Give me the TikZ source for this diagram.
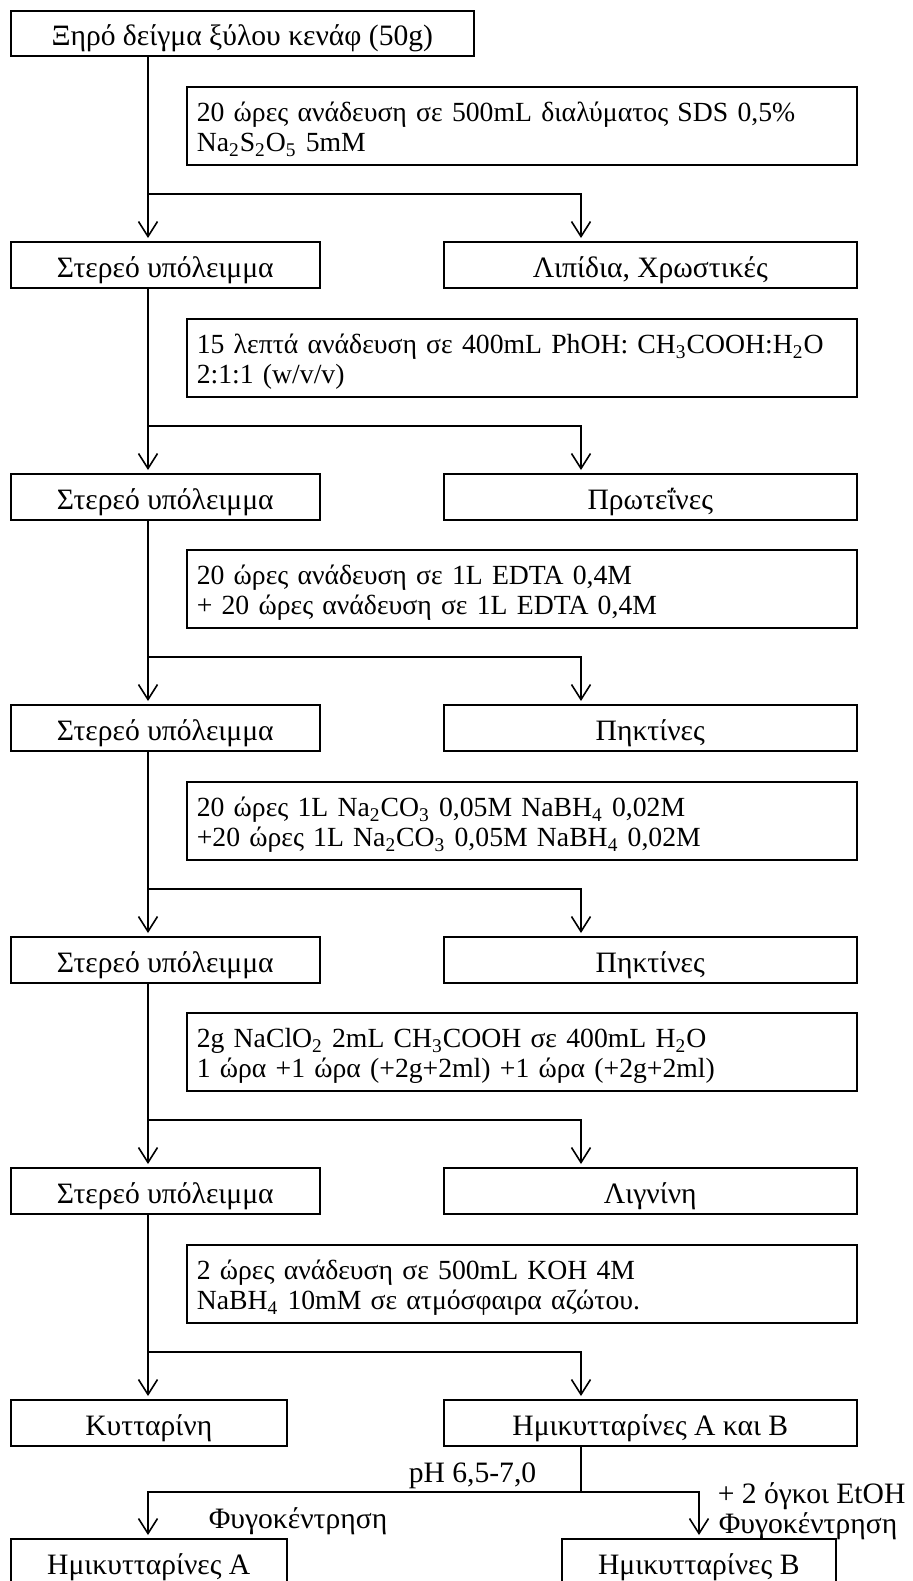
\documentclass[tikz,border=0pt]{standalone}
\usepackage{fontspec}
\setmainfont{Liberation Serif}
\usetikzlibrary{arrows.meta}

\begin{document}
\begin{tikzpicture}[x=0.5pt,y=-0.5pt,>={Straight Barb[length=7.5pt,width=9.5pt]},
  line width=0.8pt, font=\fontsize{14.8}{16}\selectfont,
  box/.style={draw, anchor=north west, inner sep=0pt, minimum height=23pt, text height=12.5pt, text depth=0pt},
  cond/.style={draw, anchor=north west, inner xsep=5pt, inner ysep=0pt, minimum height=39pt, text width=325pt, align=left, text height=14pt, text depth=18pt, font=\fontsize{13.85}{15}\selectfont},
  arr/.style={->, shorten >=1.5pt},
  lbl/.style={anchor=base west, inner sep=0pt}]

\useasboundingbox (0,0) rectangle (912,1581);

% Start
\path (10,10) node[box, minimum width=231.5pt, minimum height=22.5pt] (sample) {Ξηρό δείγμα ξύλου κενάφ (50g)};

% Step 1
\path
(186,86)  node[cond] (c1) {20 ώρες ανάδευση σε 500mL διαλύματος SDS 0,5\% \\ Na\textsubscript{2}S\textsubscript{2}O\textsubscript{5} 5mM}
(10,241)  node[box, minimum width=154.5pt] (s1) {Στερεό υπόλειμμα}
(443,241) node[box, minimum width=206.5pt] (f1) {Λιπίδια, Χρωστικές}
(148,194) coordinate (j1)
(581,194) coordinate (k1);
\draw (sample.south -| j1) -- (j1);
\draw[arr] (j1) -- (j1 |- s1.north);
\draw[arr] (j1) -- (k1) -- (k1 |- f1.north);

% Step 2
\path
(186,318) node[cond] (c2) {15 λεπτά ανάδευση σε 400mL PhOH: CH\textsubscript{3}COOH:H\textsubscript{2}O \\ 2:1:1 (w/v/v)}
(10,473)  node[box, minimum width=154.5pt] (s2) {Στερεό υπόλειμμα}
(443,473) node[box, minimum width=206.5pt] (f2) {Πρωτεΐνες}
(148,426) coordinate (j2)
(581,426) coordinate (k2);
\draw (s1.south -| j2) -- (j2);
\draw[arr] (j2) -- (j2 |- s2.north);
\draw[arr] (j2) -- (k2) -- (k2 |- f2.north);

% Step 3
\path
(186,549) node[cond] (c3) {20 ώρες ανάδευση σε 1L EDTA 0,4M \\ + 20 ώρες ανάδευση σε 1L EDTA 0,4M}
(10,704)  node[box, minimum width=154.5pt] (s3) {Στερεό υπόλειμμα}
(443,704) node[box, minimum width=206.5pt] (f3) {Πηκτίνες}
(148,657) coordinate (j3)
(581,657) coordinate (k3);
\draw (s2.south -| j3) -- (j3);
\draw[arr] (j3) -- (j3 |- s3.north);
\draw[arr] (j3) -- (k3) -- (k3 |- f3.north);

% Step 4
\path
(186,781) node[cond] (c4) {20 ώρες 1L Na\textsubscript{2}CO\textsubscript{3} 0,05M NaBH\textsubscript{4} 0,02M \\ +20 ώρες 1L Na\textsubscript{2}CO\textsubscript{3} 0,05M NaBH\textsubscript{4} 0,02M}
(10,936)  node[box, minimum width=154.5pt] (s4) {Στερεό υπόλειμμα}
(443,936) node[box, minimum width=206.5pt] (f4) {Πηκτίνες}
(148,889) coordinate (j4)
(581,889) coordinate (k4);
\draw (s3.south -| j4) -- (j4);
\draw[arr] (j4) -- (j4 |- s4.north);
\draw[arr] (j4) -- (k4) -- (k4 |- f4.north);

% Step 5
\path
(186,1012) node[cond] (c5) {2g NaClO\textsubscript{2} 2mL CH\textsubscript{3}COOH σε 400mL H\textsubscript{2}O \\ 1 ώρα +1 ώρα (+2g+2ml) +1 ώρα (+2g+2ml)}
(10,1167)  node[box, minimum width=154.5pt] (s5) {Στερεό υπόλειμμα}
(443,1167) node[box, minimum width=206.5pt] (f5) {Λιγνίνη}
(148,1120) coordinate (j5)
(581,1120) coordinate (k5);
\draw (s4.south -| j5) -- (j5);
\draw[arr] (j5) -- (j5 |- s5.north);
\draw[arr] (j5) -- (k5) -- (k5 |- f5.north);

% Step 6
\path
(186,1244) node[cond] (c6) {2 ώρες ανάδευση σε 500mL KOH 4M \\ NaBH\textsubscript{4} 10mM σε ατμόσφαιρα αζώτου.}
(10,1399)  node[box, minimum width=138pt] (cell) {Κυτταρίνη}
(443,1399) node[box, minimum width=206.5pt] (hemi) {Ημικυτταρίνες Α και Β}
(148,1352) coordinate (j6)
(581,1352) coordinate (k6);
\draw (s5.south -| j6) -- (j6);
\draw[arr] (j6) -- (j6 |- cell.north);
\draw[arr] (j6) -- (k6) -- (k6 |- hemi.north);

% Hemicelluloses split
\path
(10,1538)  node[box, minimum width=138pt] (hemiA) {Ημικυτταρίνες Α}
(561,1538) node[box, minimum width=137pt] (hemiB) {Ημικυτταρίνες Β}
(581,1492) coordinate (jb)
(148,1492) coordinate (la)
(699,1492) coordinate (lb)
(408,1482) node[lbl] (ph) {pH 6,5-7,0}
(717,1503) node[lbl] (etoh) {+ 2 όγκοι EtOH}
(208,1528) node[lbl] (cfA) {Φυγοκέντρηση}
(718,1533) node[lbl] (cfB) {Φυγοκέντρηση};
\draw (hemi.south -| jb) -- (jb);
\draw[arr] (jb) -- (la) -- (la |- hemiA.north);
\draw[arr] (jb) -- (lb) -- (lb |- hemiB.north);

\end{tikzpicture}
\end{document}
